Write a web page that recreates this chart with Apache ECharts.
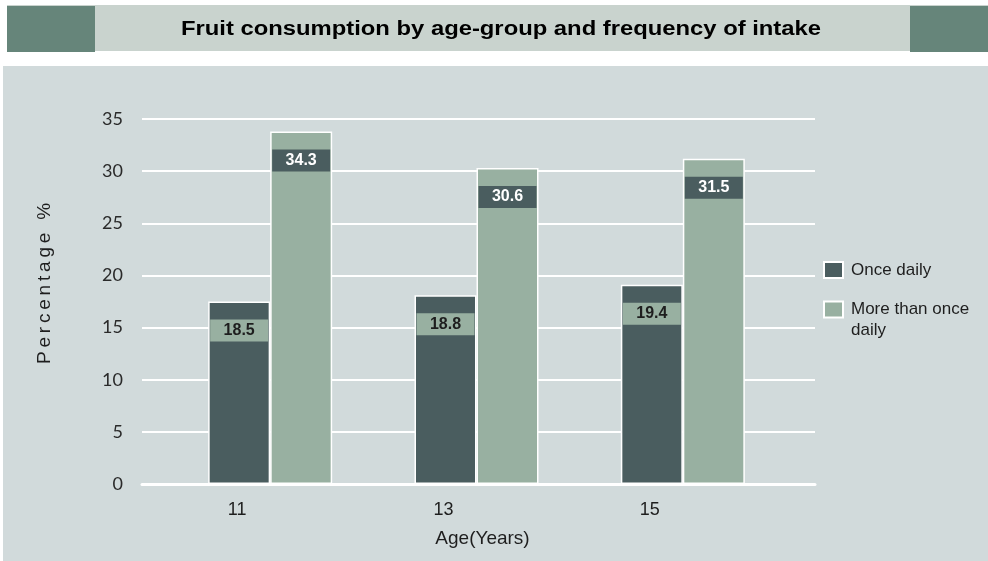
<!DOCTYPE html>
<html>
<head>
<meta charset="utf-8">
<style>
  html, body { margin: 0; padding: 0; background: #ffffff; }
  #main { width: 988px; height: 561px; }
</style>
<script src="https://cdn.jsdelivr.net/npm/echarts@6/dist/echarts.min.js"></script>
</head>
<body>
<div id="main"></div>
<script>
// chart data
const ages = ['11', '13', '15']
const onceDaily = [17.5, 18.1, 19.1]
const moreThanOnce = [33.8, 30.3, 31.2]
const onceLabels = ['18.5', '18.8', '19.4']
const moreLabels = ['34.3', '30.6', '31.5']
const yMin = 0
const yMax = 35
const yStep = 5

const DARK = '#4a5d5f'
const LIGHT = '#98b0a1'
const FONT = 'Arial, "Liberation Sans"'

const chart = echarts.init(document.getElementById('main'))

function barLabel(texts, bg, fg) {
  return {
    show: true,
    position: 'insideTop',
    distance: 18,
    formatter: p => texts[p.dataIndex],
    width: 58,
    height: 22,
    lineHeight: 22,
    align: 'center',
    backgroundColor: bg,
    color: fg,
    fontWeight: 'bold',
    fontSize: 16,
    fontFamily: FONT
  }
}

chart.setOption({
  backgroundColor: '#ffffff',
  animation: false,
  graphic: [
    { type: 'rect', z: -10, shape: { x: 3, y: 66, width: 985, height: 495 }, style: { fill: '#d1dadb' } },
    { type: 'rect', z: -10, shape: { x: 7, y: 5, width: 981, height: 46 }, style: { fill: '#c9d3ce' } },
    { type: 'rect', z: -9, shape: { x: 7, y: 6, width: 88, height: 46 }, style: { fill: '#66857a' } },
    { type: 'rect', z: -9, shape: { x: 910, y: 6, width: 78, height: 46 }, style: { fill: '#66857a' } },
    {
      // title text, drawn a little wide like the original
      type: 'text',
      x: 501,
      y: 29,
      scaleX: 1.19,
      style: {
        text: 'Fruit consumption by age-group and frequency of intake',
        x: 0,
        y: 0,
        align: 'center',
        verticalAlign: 'middle',
        fontFamily: FONT,
        fontSize: 20,
        fontWeight: 'bold',
        fill: '#000000'
      }
    }
  ],
  legend: [
    {
      data: ['Once daily'],
      orient: 'vertical',
      left: 818,
      top: 256,
      itemWidth: 19,
      itemHeight: 16,
      icon: 'rect',
      textStyle: { fontFamily: FONT, fontSize: 17, color: '#1e1e1e', padding: [0, 0, 0, 3] }
    },
    {
      data: ['More than once daily'],
      orient: 'vertical',
      left: 818,
      top: 273,
      itemWidth: 19,
      itemHeight: 16,
      icon: 'rect',
      formatter: () => '\nMore than once\ndaily',
      textStyle: { fontFamily: FONT, fontSize: 17, lineHeight: 21, color: '#1e1e1e', padding: [0, 0, 0, 3] }
    }
  ],
  grid: [
    { left: 142, right: 173, top: 119, bottom: 77 },
    { left: 167, right: 202, top: 119, bottom: 77 }
  ],
  xAxis: [
    {
      gridIndex: 0,
      type: 'category',
      data: ages,
      axisLine: { show: true, lineStyle: { color: '#ffffff', width: 3 } },
      axisTick: { show: false },
      axisLabel: { show: false }
    },
    {
      gridIndex: 1,
      type: 'category',
      data: ages,
      name: 'Age(Years)',
      nameLocation: 'middle',
      nameGap: 45,
      nameTextStyle: { fontFamily: FONT, fontSize: 19, color: '#1e1e1e', padding: [0, 0, 0, 12] },
      axisLine: { show: false },
      axisTick: { show: false },
      axisLabel: {
        margin: 17,
        fontFamily: FONT,
        fontSize: 18,
        color: '#1e1e1e',
        padding: [0, 66, 0, 0]
      }
    }
  ],
  yAxis: [
    {
      gridIndex: 0,
      type: 'value',
      min: yMin,
      max: yMax,
      interval: yStep,
      name: 'P\u2009e\u2009r\u2009c\u2009e\u2009n\u2009t\u2009a\u2009g\u2009e\u2009 \u2009%',
      nameLocation: 'middle',
      nameRotate: 90,
      nameGap: 88,
      nameTextStyle: { fontFamily: FONT, fontSize: 19, color: '#1e1e1e', padding: [0, 0, 0, 36] },
      axisLine: { show: false },
      axisTick: { show: false },
      axisLabel: { margin: 19, fontFamily: 'Lato', fontSize: 18, color: '#2a2a2a' },
      splitLine: { lineStyle: { color: '#ffffff', width: 2 } }
    },
    {
      gridIndex: 1,
      type: 'value',
      min: yMin,
      max: yMax,
      interval: yStep,
      show: false,
      splitLine: { show: false }
    }
  ],
  series: [
    {
      name: 'Once daily',
      type: 'bar',
      xAxisIndex: 1,
      yAxisIndex: 1,
      data: onceDaily,
      barWidth: 62,
      barGap: '0%',
      itemStyle: { color: DARK, borderColor: '#ffffff', borderWidth: 1.5 },
      label: barLabel(onceLabels, LIGHT, '#1e1e1e')
    },
    {
      name: 'More than once daily',
      type: 'bar',
      xAxisIndex: 1,
      yAxisIndex: 1,
      data: moreThanOnce,
      barWidth: 62,
      barGap: '0%',
      itemStyle: { color: LIGHT, borderColor: '#ffffff', borderWidth: 1.5 },
      label: barLabel(moreLabels, DARK, '#ffffff')
    }
  ]
})
</script>
</body>
</html>
